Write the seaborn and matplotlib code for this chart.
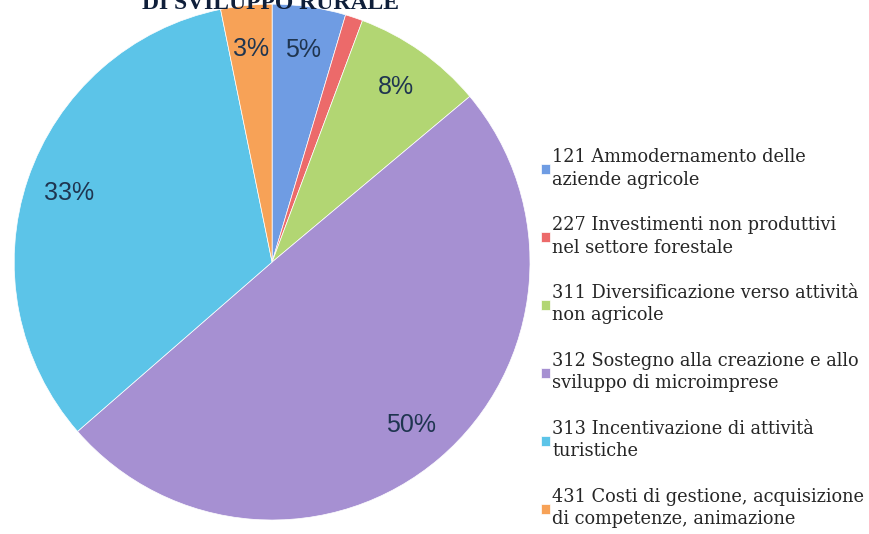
import matplotlib
matplotlib.use("Agg")
import matplotlib.pyplot as plt
import seaborn as sns

labels = [
    "121 Ammodernamento delle\naziende agricole",
    "227 Investimenti non produttivi\nnel settore forestale",
    "311 Diversificazione verso attività\nnon agricole",
    "312 Sostegno alla creazione e allo\nsviluppo di microimprese",
    "313 Incentivazione di attività\nturistiche",
    "431 Costi di gestione, acquisizione\ndi competenze, animazione",
]
values = [4.6, 1.1, 8.2, 49.7, 33.2, 3.2]
colors = ["#6f9ce3", "#ec6a6a", "#b2d673", "#a690d2", "#5cc4e8", "#f7a257"]

sns.set_theme(style="white")
plt.rcParams["font.family"] = ["DejaVu Serif", "Liberation Serif"]

fig = plt.figure(figsize=(8.69, 5.34), dpi=100)
ax = fig.add_axes([0.0161, 0.0262, 0.594, 0.966])

def fmt(p):
    return f"{p:.0f}%" if p >= 2 else ""

wedges, texts, autotexts = ax.pie(
    values, colors=colors, startangle=90, counterclock=False,
    autopct=fmt, pctdistance=0.83,
    wedgeprops={"linewidth": 0.5, "edgecolor": "white"},
    textprops={"fontsize": 18, "color": "#1f3550", "family": ["Liberation Sans", "DejaVu Sans"]},
)
ax.set_xlim(-1, 1)
ax.set_ylim(-1, 1)
ax.set_aspect("equal")

# title is partly outside the frame, as in the original
fig.text(0.311, 1.014, "DI SVILUPPO RURALE", ha="center", va="top",
         fontsize=17, fontweight="bold", color="#0f1f3a",
         family=["Liberation Serif", "DejaVu Serif"])

leg = fig.legend(wedges, labels, loc="upper left", bbox_to_anchor=(0.604, 0.752),
                 frameon=False, fontsize=12.8, handlelength=0.5, handleheight=0.5,
                 handletextpad=0.15, labelspacing=1.56)
for t in leg.get_texts():
    t.set_linespacing(1.3)

fig.savefig("out.png", dpi=100)
